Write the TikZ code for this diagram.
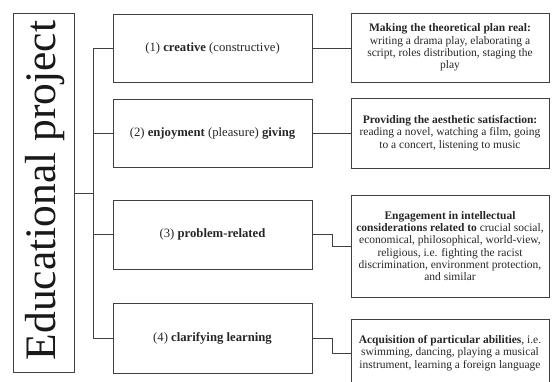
\documentclass[tikz,border=0pt]{standalone}
\usepackage{fontspec}
\setmainfont{Liberation Serif}
\begin{document}
\begin{tikzpicture}[x=1pt,y=-1pt,
  every node/.style={text=black!85},
  box/.style={draw=black!75, line width=0.9pt, rectangle, inner sep=1pt, align=center},
  midbox/.style={box, minimum width=199pt, font=\fontsize{12.7}{14}\selectfont},
  rbox/.style={box, minimum width=198pt, font=\fontsize{11.5}{12.2}\selectfont},
  conn/.style={draw=black!75, line width=0.9pt}]
\useasboundingbox (0,0) rectangle (553,382);
% left box
\node[box, minimum width=61pt, minimum height=359pt] (ep) at (44,192.5) {};
\node[rotate=90, font=\fontsize{43.5}{43.5}\selectfont, text=black!90] (eptext) at (45,190.5) {Educational project};
% middle boxes
\node[midbox, minimum height=68pt] (m1) at (212.5,48) {(1) \textbf{creative} (constructive)};
\node[midbox, minimum height=68pt] (m2) at (212.5,133) {(2) \textbf{enjoyment} (pleasure) \textbf{giving}};
\node[midbox, minimum height=69pt] (m3) at (212.5,234.5) {(3) \textbf{problem-related}};
\node[midbox, minimum height=70pt] (m4) at (212.5,338) {(4) \textbf{clarifying learning}};
% right boxes
\node[rbox, minimum height=69pt] (r1) at (450,47.5) {\textbf{Making the theoretical plan real:}\\ writing a drama play, elaborating a\\ script, roles distribution, staging the\\ play};
\node[rbox, minimum height=70pt] (r2) at (450,133) {\textbf{Providing the aesthetic satisfaction:}\\ reading a novel, watching a film, going\\ to a concert, listening to music};
\node[rbox, minimum height=102pt] (r3) at (450,246) {\textbf{Engagement in intellectual}\\ \textbf{considerations related to} crucial social,\\ economical, philosophical, world-view,\\ religious, i.e. fighting the racist\\ discrimination, environment protection,\\ and similar};
\node[rbox, minimum height=68pt] (r4) at (450,353) {\textbf{Acquisition of particular abilities}, i.e.\\ swimming, dancing, playing a musical\\ instrument, learning a foreign language};
% trunk
\coordinate (t) at (93,193);
\coordinate (ttop) at (93,48);
\coordinate (tbot) at (93,338);
\draw[conn] (ep.east |- t) -- (t);
\draw[conn] (ttop) -- (tbot);
\draw[conn] (ttop) -- (m1.west);
\draw[conn] (93,133) -- (m2.west);
\draw[conn] (93,234.5) -- (m3.west);
\draw[conn] (tbot) -- (m4.west);
% right connectors
\draw[conn] (m1.east) -- (r1.west |- m1.east);
\draw[conn] (m2.east) -- (r2.west |- m2.east);
\draw[conn] (m3.east) -- ++(20,0) |- (r3.west);
\draw[conn] (m4.east) -- ++(20,0) |- (r4.west);
\end{tikzpicture}
\end{document}
